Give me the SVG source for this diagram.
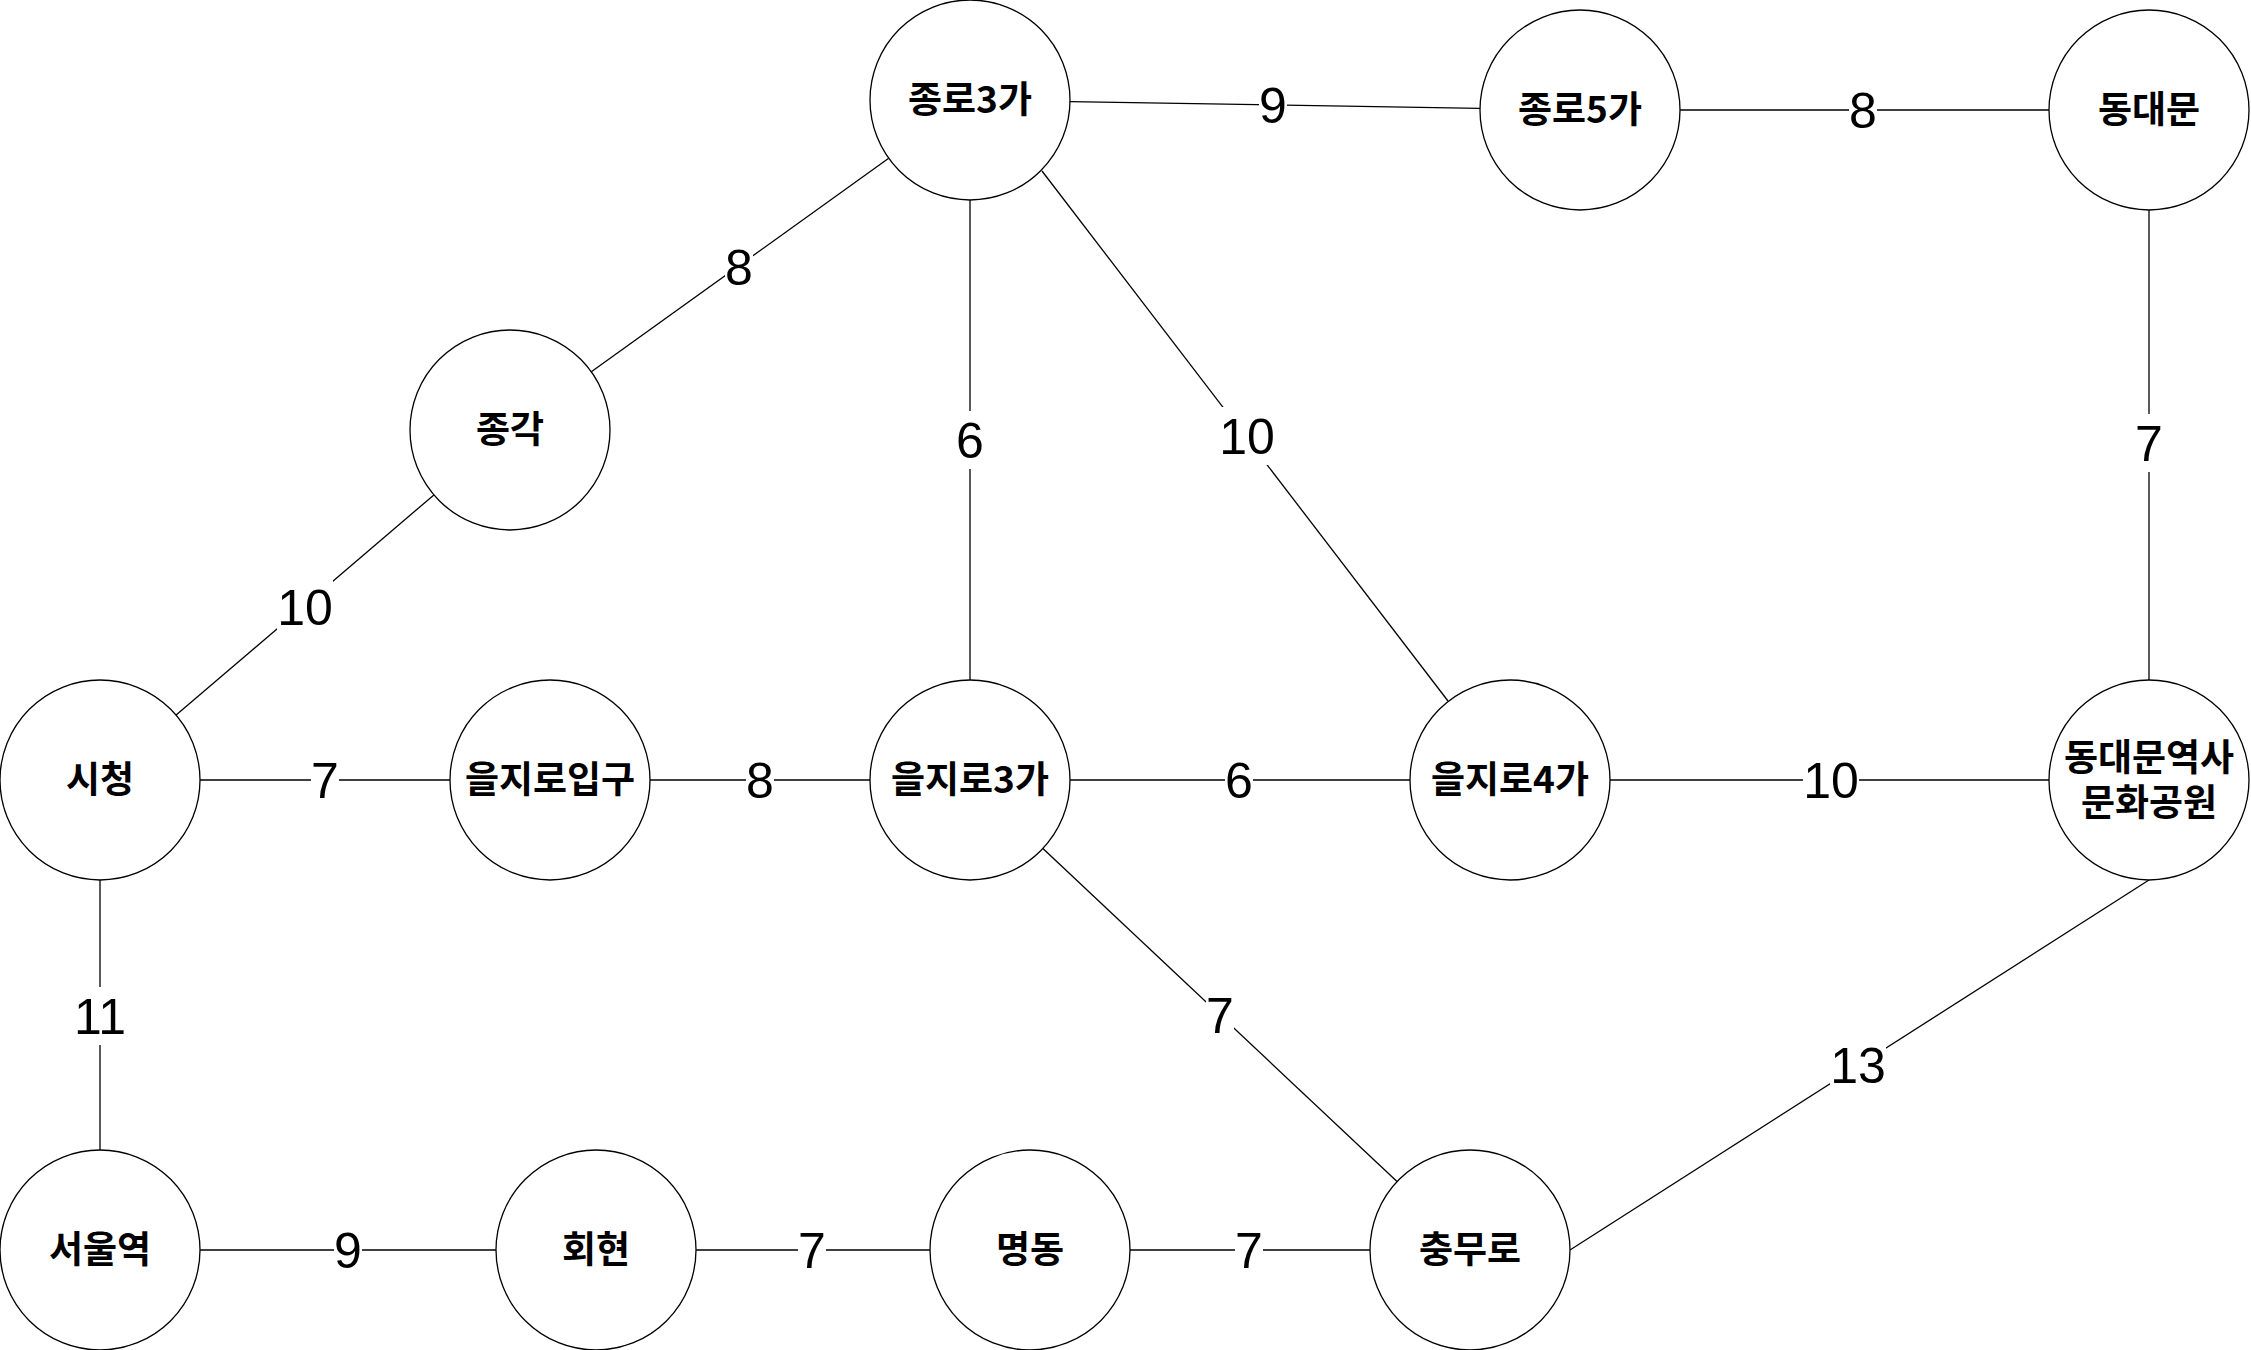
<svg xmlns="http://www.w3.org/2000/svg" width="2251" height="1350" viewBox="0 0 2251 1350">
<style>
.node circle{fill:#fff;stroke:#000;stroke-width:1.3}
.node text{font-family:"Noto Sans CJK KR","Liberation Sans",sans-serif;font-weight:bold;font-size:37px;text-anchor:middle;fill:#000}
#edges line{stroke:#000;stroke-width:1.3}
.lbl rect{fill:#fff}
.lbl text{font-family:"Liberation Sans",Arial,sans-serif;font-size:50px;text-anchor:middle;fill:#000}
</style>
<rect width="2251" height="1350" fill="#fff"/>
<g id="edges">
<line x1="888.7" y1="158.3" x2="591.3" y2="371.7"/>
<line x1="433.9" y1="494.9" x2="176.1" y2="715.1"/>
<line x1="1070" y1="101.6" x2="1480" y2="108.4"/>
<line x1="1680" y1="110" x2="2049" y2="110"/>
<line x1="2149" y1="210" x2="2149" y2="680"/>
<line x1="970" y1="200" x2="970" y2="680"/>
<line x1="1042" y1="171" x2="1448" y2="701"/>
<line x1="200" y1="780" x2="450" y2="780"/>
<line x1="650" y1="780" x2="870" y2="780"/>
<line x1="1070" y1="780" x2="1410" y2="780"/>
<line x1="1610" y1="780" x2="2049" y2="780"/>
<line x1="100" y1="880" x2="100" y2="1150"/>
<line x1="200" y1="1250" x2="496" y2="1250"/>
<line x1="696" y1="1250" x2="930" y2="1250"/>
<line x1="1130" y1="1250" x2="1370" y2="1250"/>
<line x1="1042.9" y1="848.5" x2="1397" y2="1181.5"/>
<line x1="2149" y1="880" x2="1570" y2="1250"/>
<g class="lbl"><rect x="725" y="238" width="28" height="58"/><text x="739" y="285">8</text></g>
<g class="lbl"><rect x="277" y="578" width="56" height="58"/><text x="305" y="625">10</text></g>
<g class="lbl"><rect x="1259" y="76" width="28" height="58"/><text x="1273" y="123">9</text></g>
<g class="lbl"><rect x="1849" y="81" width="28" height="58"/><text x="1863" y="128">8</text></g>
<g class="lbl"><rect x="2135" y="414" width="28" height="58"/><text x="2149" y="461">7</text></g>
<g class="lbl"><rect x="956" y="411" width="28" height="58"/><text x="970" y="458">6</text></g>
<g class="lbl"><rect x="1219" y="407" width="56" height="58"/><text x="1247" y="454">10</text></g>
<g class="lbl"><rect x="311" y="751" width="28" height="58"/><text x="325" y="798">7</text></g>
<g class="lbl"><rect x="746" y="751" width="28" height="58"/><text x="760" y="798">8</text></g>
<g class="lbl"><rect x="1225" y="751" width="28" height="58"/><text x="1239" y="798">6</text></g>
<g class="lbl"><rect x="1803" y="751" width="56" height="58"/><text x="1831" y="798">10</text></g>
<g class="lbl"><rect x="72" y="987" width="56" height="58"/><text x="100" y="1034">11</text></g>
<g class="lbl"><rect x="334" y="1221" width="28" height="58"/><text x="348" y="1268">9</text></g>
<g class="lbl"><rect x="798" y="1221" width="28" height="58"/><text x="812" y="1268">7</text></g>
<g class="lbl"><rect x="1235" y="1221" width="28" height="58"/><text x="1249" y="1268">7</text></g>
<g class="lbl"><rect x="1206" y="986" width="28" height="58"/><text x="1220" y="1033">7</text></g>
<g class="lbl"><rect x="1830" y="1036" width="56" height="58"/><text x="1858" y="1083">13</text></g>
</g>
<g id="n-jongno3" class="node"><circle cx="970" cy="100" r="100"/><text x="970" y="113">종로3가</text></g>
<g id="n-jongno5" class="node"><circle cx="1580" cy="110" r="100"/><text x="1580" y="123">종로5가</text></g>
<g id="n-dongdaemun" class="node"><circle cx="2149" cy="110" r="100"/><text x="2149" y="123">동대문</text></g>
<g id="n-jonggak" class="node"><circle cx="510" cy="430" r="100"/><text x="510" y="443">종각</text></g>
<g id="n-cityhall" class="node"><circle cx="100" cy="780" r="100"/><text x="100" y="793">시청</text></g>
<g id="n-euljiro1" class="node"><circle cx="550" cy="780" r="100"/><text x="550" y="793">을지로입구</text></g>
<g id="n-euljiro3" class="node"><circle cx="970" cy="780" r="100"/><text x="970" y="793">을지로3가</text></g>
<g id="n-euljiro4" class="node"><circle cx="1510" cy="780" r="100"/><text x="1510" y="793">을지로4가</text></g>
<g id="n-ddp" class="node"><circle cx="2149" cy="780" r="100"/><text x="2149" y="771">동대문역사<tspan x="2149" dy="45">문화공원</tspan></text></g>
<g id="n-seoul" class="node"><circle cx="100" cy="1250" r="100"/><text x="100" y="1263">서울역</text></g>
<g id="n-hoehyeon" class="node"><circle cx="596" cy="1250" r="100"/><text x="596" y="1263">회현</text></g>
<g id="n-myeongdong" class="node"><circle cx="1030" cy="1250" r="100"/><text x="1030" y="1263">명동</text></g>
<g id="n-chungmuro" class="node"><circle cx="1470" cy="1250" r="100"/><text x="1470" y="1263">충무로</text></g>
</svg>
